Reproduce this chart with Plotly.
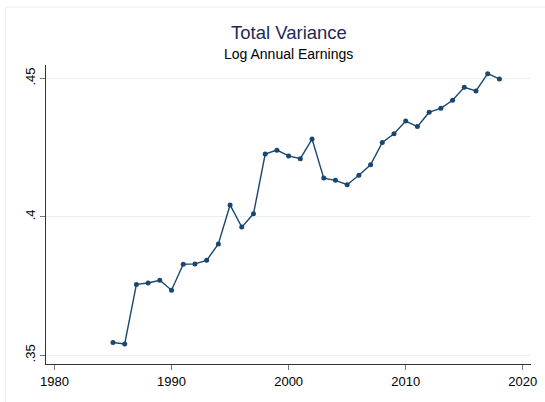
import plotly.graph_objects as go

years = list(range(1985, 2019))
variance = [0.3546, 0.3541, 0.3756, 0.3761, 0.3771, 0.3735, 0.3829, 0.3830,
            0.3843, 0.3902, 0.4043, 0.3963, 0.4011, 0.4227, 0.4241, 0.4220,
            0.4210, 0.4281, 0.4140, 0.4132, 0.4116, 0.4150, 0.4188, 0.4269,
            0.4300, 0.4346, 0.4326, 0.4378, 0.4392, 0.4421, 0.4468, 0.4455,
            0.4517, 0.4498]
x_ticks = [1980, 1990, 2000, 2010, 2020]
y_ticks = [0.35, 0.40, 0.45]
y_ticklabels = [".35", ".4", ".45"]
title_text = "Total Variance"
subtitle_text = "Log Annual Earnings"

FONT = "Liberation Sans, Arial, Helvetica, sans-serif"
NAVY = "#1a476f"

fig = go.Figure()
fig.add_trace(go.Scatter(
    x=years, y=variance, mode="lines+markers",
    line=dict(color=NAVY, width=1.4),
    marker=dict(color=NAVY, size=5),
    showlegend=False, hoverinfo="x+y",
))

fig.update_layout(
    width=545, height=402,
    margin=dict(l=46, r=8, t=65, b=38),
    paper_bgcolor="white", plot_bgcolor="white",
    font=dict(family=FONT, color="black", size=12.5),
)

fig.add_annotation(text=title_text, xref="paper", yref="paper",
                   x=0.5, y=1.108, xanchor="center", yanchor="middle",
                   showarrow=False, font=dict(family=FONT, size=18.5, color="#1c2a55"))
fig.add_annotation(text=subtitle_text, xref="paper", yref="paper",
                   x=0.5, y=1.0368, xanchor="center", yanchor="middle",
                   showarrow=False, font=dict(family=FONT, size=14, color="black"))

fig.update_xaxes(
    range=[1979.28, 2020.70], tickvals=x_ticks,
    showgrid=False, zeroline=False,
    showline=True, linecolor="#333333", linewidth=1,
    ticks="outside", ticklen=5, tickcolor="#777777",
    tickfont=dict(family=FONT, size=13, color="black"),
)
fig.update_yaxes(
    range=[0.34685, 0.45485], tickvals=y_ticks, ticktext=y_ticklabels,
    tickangle=-90,
    showgrid=True, gridcolor="#e8f0f2", gridwidth=1, zeroline=False,
    showline=True, linecolor="#333333", linewidth=1,
    ticks="outside", ticklen=5, tickcolor="#777777",
    tickfont=dict(family=FONT, size=13, color="black"),
)

# faint outer frame of the graph region
fig.add_shape(type="rect", xref="paper", yref="paper",
              x0=-41/491, y0=-60/299, x1=1.2, y1=1 + 58/299,
              line=dict(color="#eeeeee", width=1), fillcolor="rgba(0,0,0,0)",
              layer="below")

fig.write_html("out.html", config={"displayModeBar": False},
               post_script="document.body.style.margin='0';document.body.style.padding='0';")
